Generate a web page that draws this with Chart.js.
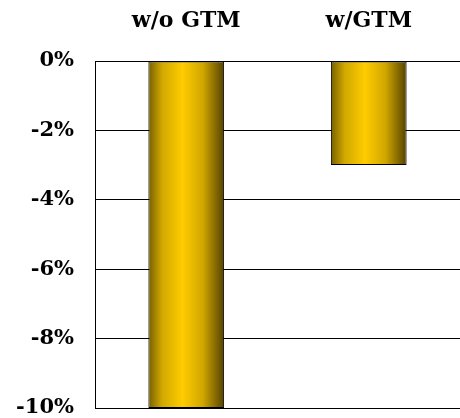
<!DOCTYPE html>
<html>
<head>
<meta charset="utf-8">
<script src="https://cdn.jsdelivr.net/npm/chart.js@4"></script>
<style>
  html, body { margin: 0; padding: 0; background: #fff; overflow: hidden; }
</style>
</head>
<body>
<canvas id="myChart" width="460" height="418"></canvas>
<script>
// chart data
const categories = ['w/o GTM', 'w/GTM'];
const changePct = [-10, -3];
const yTicks = [0, -2, -4, -6, -8, -10];

const BAR_PCT = 0.415;

// gold "cylinder" look: dark edges, bright middle
function goldFill(context) {
    const chart = context.chart;
    if (!chart.chartArea) return '#f0c000';
    const xs = chart.scales.x;
    const cx = xs.getPixelForValue(context.dataIndex);
    const w = (xs.width / categories.length) * BAR_PCT;
    const g = chart.ctx.createLinearGradient(cx - w / 2, 0, cx + w / 2, 0);
    g.addColorStop(0, '#786000');
    g.addColorStop(0.18, '#d0a800');
    g.addColorStop(0.45, '#ffcc00');
    g.addColorStop(0.72, '#d0a600');
    g.addColorStop(1, '#544200');
    return g;
}

const ctx = document.getElementById('myChart');

const myChart = new Chart(ctx, {
    type: 'bar',
    data: {
        labels: categories,
        datasets: [{
            data: changePct,
            backgroundColor: goldFill,
            borderColor: '#000',
            borderWidth: 1,
            borderSkipped: false,
            barPercentage: BAR_PCT,
            categoryPercentage: 1
        }]
    },
    options: {
        responsive: false,
        animation: false,
        layout: { padding: 0 },
        plugins: {
            legend: { display: false },
            tooltip: { enabled: false }
        },
        scales: {
            x: {
                position: 'top',
                grid: { display: false },
                border: { display: false },
                // room above the plot for the category labels
                afterFit: (scale) => { scale.height = 61; },
                ticks: {
                    color: '#000',
                    padding: 19,
                    font: { family: 'DejaVu Serif', size: 22, weight: 'bold' }
                }
            },
            y: {
                min: -10,
                max: 0,
                afterBuildTicks: (axis) => {
                    axis.ticks = yTicks.map(v => ({ value: v }));
                },
                afterFit: (scale) => {
                    scale.width = 95;
                    // tick padding gets added to top/bottom too, drop it
                    scale.paddingTop = 0;
                    scale.paddingBottom = 10;
                },
                grid: { color: '#000', lineWidth: 1, drawTicks: false },
                border: { color: '#000', width: 1 },
                ticks: {
                    color: '#000',
                    padding: 21,
                    font: { family: 'DejaVu Serif', size: 21, weight: 'bold' },
                    callback: (v) => v + '%'
                }
            }
        }
    }
});
</script>
</body>
</html>
